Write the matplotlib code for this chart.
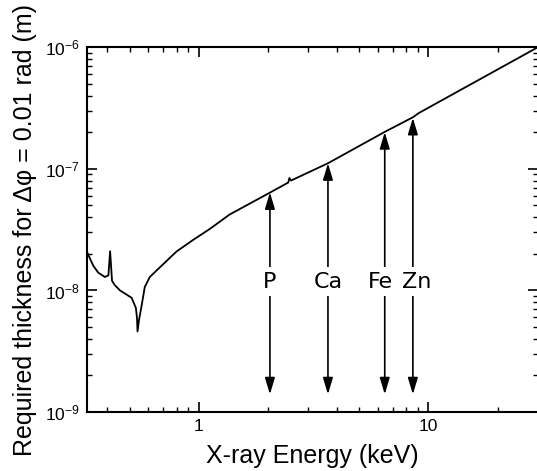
import numpy as np
import matplotlib
matplotlib.use("Agg")
from matplotlib import pyplot as plt
from matplotlib import ticker, transforms

# curve (keV, m)
energy = [0.326, 0.347, 0.365, 0.39, 0.404, 0.411, 0.419, 0.43, 0.454, 0.51,
          0.532, 0.538, 0.541, 0.549, 0.563, 0.582, 0.612, 0.677, 0.80, 0.944,
          1.116, 1.36, 2.05, 2.45, 2.48, 2.52, 3.65, 6.45, 8.55, 9.1, 30.0]
thickness = [2.07e-8, 1.6e-8, 1.4e-8, 1.29e-8, 1.33e-8, 2.1e-8, 1.2e-8, 1.11e-8, 1.0e-8, 8.7e-9,
             7.2e-9, 6.0e-9, 4.6e-9, 5.7e-9, 7.4e-9, 1.07e-8, 1.29e-8, 1.55e-8, 2.09e-8, 2.6e-8,
             3.2e-8, 4.2e-8, 6.4e-8, 7.7e-8, 8.4e-8, 8.0e-8, 1.11e-7, 2.01e-7, 2.65e-7, 2.88e-7, 1.0e-6]

elements = ["P", "Ca", "Fe", "Zn"]
element_energy = [2.04, 3.65, 6.45, 8.55]
element_top = [6.4e-8, 1.11e-7, 2.0e-7, 2.62e-7]
arrow_bottom = 1.4e-9
label_y = 1.18e-8
label_shift = [0, 0, -3, 3]  # points, Fe/Zn labels pushed apart

plt.rcParams['font.family'] = ['Liberation Sans', 'DejaVu Sans']

fig = plt.figure(figsize=(5.37, 4.71), dpi=100)
ax = fig.add_axes([0.162, 0.125, 0.840, 0.775])

ax.plot(energy, thickness, color='black', lw=1.3)

for name, e, top, dx in zip(elements, element_energy, element_top, label_shift):
    ax.annotate("", xy=(e, top), xytext=(e, arrow_bottom),
                arrowprops=dict(arrowstyle="<|-|>,head_length=1.0,head_width=0.3",
                                mutation_scale=10, color='black', lw=1.2,
                                shrinkA=0, shrinkB=0))
    tr = transforms.offset_copy(ax.transData, fig=fig, x=dx, y=0, units='points')
    ax.text(e, label_y, name, ha='center', va='center', fontsize=16,
            family='DejaVu Sans', transform=tr,
            bbox=dict(facecolor='white', edgecolor='none', pad=3))

ax.set_xscale('log')
ax.set_yscale('log')
ax.set_xlim(0.326, 30)
ax.set_ylim(1e-9, 1e-6)
ax.xaxis.set_major_formatter(ticker.FuncFormatter(lambda v, p: f"{v:g}"))
ax.xaxis.set_minor_formatter(ticker.NullFormatter())

ax.tick_params(which='both', direction='in', top=True, right=True, labelsize=12.5, pad=5)
ax.tick_params(which='major', length=7, width=1.2)
ax.tick_params(which='minor', length=3.5, width=1.0)
for s in ax.spines.values():
    s.set_linewidth(1.5)

ax.set_xlabel("X-ray Energy (keV)", fontsize=18, labelpad=7)
ax.set_ylabel("Required thickness for \u0394\u03c6 = 0.01 rad (m)", fontsize=18, labelpad=6)

fig.savefig("out.png", dpi=100)
